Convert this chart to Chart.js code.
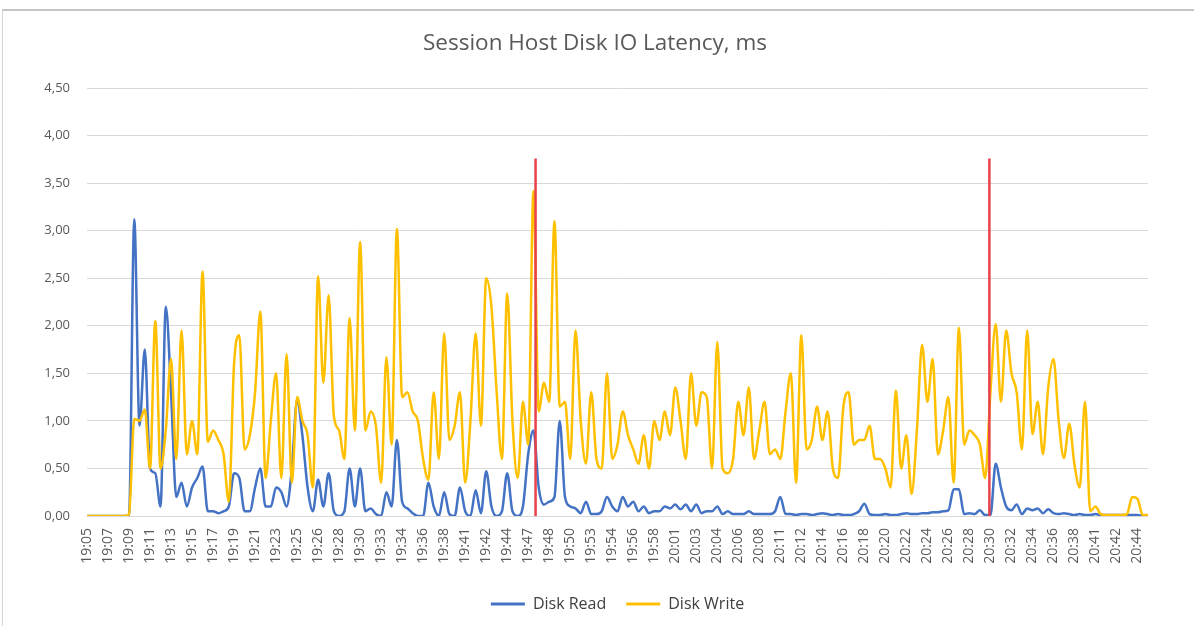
<!DOCTYPE html>
<html>
<head>
<meta charset="utf-8">
<title>Session Host Disk IO Latency</title>
<script src="https://cdn.jsdelivr.net/npm/chart.js@4.4.0/dist/chart.umd.min.js"></script>
<style>
  html, body { margin: 0; padding: 0; background: #fff; }
  #frame {
    position: absolute; left: 2px; top: 9px; width: 1192px; height: 617px;
    border-top: 2px solid #c4c4c4; border-left: 1px solid #d4d4d4; box-sizing: border-box;
  }
  #latency-chart { position: absolute; left: 0; top: 0; }
</style>
</head>
<body>
<div id="frame"></div>
<canvas id="latency-chart" width="1194" height="626"></canvas>
<script>
"use strict";
(function () {
  // one tick label every 4 samples
  const TICK_LABELS = ["19:05", "19:07", "19:09", "19:11", "19:13", "19:15", "19:17", "19:19",
    "19:21", "19:23", "19:25", "19:26", "19:28", "19:30", "19:33", "19:34", "19:36", "19:38",
    "19:41", "19:42", "19:44", "19:47", "19:48", "19:50", "19:53", "19:54", "19:56", "19:58",
    "20:01", "20:03", "20:04", "20:06", "20:08", "20:11", "20:12", "20:14", "20:16", "20:18",
    "20:20", "20:22", "20:24", "20:26", "20:28", "20:30", "20:32", "20:34", "20:36", "20:38",
    "20:41", "20:42", "20:44"];
  const SAMPLES_PER_TICK = 4;

  const READ = [
    0, 0, 0, 0, 0, 0, 0, 0, 0, 3.12,
    0.95, 1.75, 0.5, 0.45, 0.1, 2.2, 1.3, 0.2, 0.35, 0.1,
    0.3, 0.4, 0.52, 0.05, 0.05, 0.03, 0.05, 0.1, 0.45, 0.4,
    0.05, 0.05, 0.3, 0.5, 0.1, 0.1, 0.3, 0.25, 0.1, 0.5,
    1.22, 0.85, 0.3, 0.05, 0.38, 0.1, 0.45, 0.05, 0, 0.05,
    0.5, 0.1, 0.5, 0.05, 0.08, 0.02, 0, 0.25, 0.1, 0.8,
    0.15, 0.08, 0.03, 0, 0, 0.35, 0.1, 0, 0.25, 0.02,
    0, 0.3, 0.05, 0, 0.27, 0.03, 0.47, 0.1, 0, 0.05,
    0.45, 0.05, 0, 0.1, 0.65, 0.9, 0.3, 0.12, 0.15, 0.2,
    1.0, 0.2, 0.1, 0.08, 0.03, 0.15, 0.02, 0.02, 0.05, 0.2,
    0.1, 0.05, 0.2, 0.1, 0.15, 0.05, 0.1, 0.03, 0.05, 0.05,
    0.1, 0.08, 0.12, 0.07, 0.12, 0.05, 0.12, 0.03, 0.05, 0.05,
    0.1, 0.02, 0.05, 0.02, 0.02, 0.02, 0.05, 0.02, 0.02, 0.02,
    0.02, 0.05, 0.2, 0.02, 0.02, 0.01, 0.02, 0.02, 0.01, 0.02,
    0.03, 0.02, 0.01, 0.02, 0.01, 0.01, 0.02, 0.05, 0.13, 0.02,
    0.01, 0.01, 0.02, 0.01, 0.01, 0.02, 0.03, 0.02, 0.02, 0.03,
    0.03, 0.04, 0.04, 0.05, 0.06, 0.28, 0.28, 0.02, 0.03, 0.02,
    0.06, 0.01, 0.01, 0.55, 0.3, 0.1, 0.06, 0.12, 0.02, 0.08,
    0.06, 0.08, 0.03, 0.07, 0.03, 0.02, 0.03, 0.02, 0.01, 0.02,
    0.01, 0.01, 0.02, 0.01, 0.01, 0.01, 0.01, 0.01, 0.01, 0.01,
    0.01, 0, 0];

  const WRITE = [
    0, 0, 0, 0, 0, 0, 0, 0, 0.02, 1.02,
    1.0, 1.12, 0.5, 2.05, 0.5, 0.9, 1.65, 0.6, 1.95, 0.65,
    1.0, 0.65, 2.57, 0.78, 0.9, 0.8, 0.65, 0.15, 1.6, 1.9,
    0.7, 0.85, 1.3, 2.15, 0.4, 1.0, 1.5, 0.4, 1.7, 0.35,
    1.25, 1.0, 0.85, 0.3, 2.52, 1.4, 2.32, 1.05, 0.9, 0.6,
    2.08, 0.9, 2.88, 0.9, 1.1, 0.95, 0.35, 1.67, 0.75, 3.02,
    1.25, 1.3, 1.1, 1.0, 0.6, 0.38, 1.3, 0.6, 1.92, 0.8,
    0.95, 1.3, 0.35, 1.0, 1.92, 0.95, 2.5, 2.2, 1.3, 0.6,
    2.34, 1.0, 0.4, 1.2, 0.75, 3.42, 1.1, 1.4, 1.2, 3.1,
    1.15, 1.2, 0.6, 1.95, 1.0, 0.55, 1.3, 0.6, 0.5, 1.5,
    0.6, 0.75, 1.1, 0.85, 0.7, 0.55, 0.85, 0.5, 1.0, 0.8,
    1.1, 0.85, 1.35, 1.0, 0.6, 1.5, 0.95, 1.3, 1.25, 0.5,
    1.83, 0.5, 0.45, 0.6, 1.2, 0.85, 1.35, 0.6, 0.9, 1.2,
    0.65, 0.7, 0.6, 1.1, 1.5, 0.35, 1.9, 0.7, 0.8, 1.15,
    0.8, 1.1, 0.5, 0.4, 1.15, 1.3, 0.75, 0.8, 0.8, 0.95,
    0.6, 0.6, 0.5, 0.3, 1.32, 0.5, 0.85, 0.23, 0.9, 1.8,
    1.2, 1.65, 0.65, 0.9, 1.25, 0.35, 1.98, 0.75, 0.9, 0.85,
    0.75, 0.4, 1.3, 2.02, 1.2, 1.95, 1.5, 1.3, 0.7, 1.95,
    0.86, 1.2, 0.65, 1.35, 1.65, 1.0, 0.61, 0.97, 0.54, 0.3,
    1.2, 0.05, 0.1, 0.02, 0.01, 0.01, 0.01, 0.01, 0.02, 0.2,
    0.18, 0.01, 0.01];

  // the two red marker lines (sample position) and how high they go
  const MARKERS = [85.4, 171.8];
  const MARKER_TOP = 3.76;

  const FONT = "'Open Sans', 'DejaVu Sans', sans-serif";
  const TEXT_COLOR = "#595959";
  const BLUE = "#4472c4";
  const GOLD = "#ffc000";
  const RED = "#e8414a";

  window.addEventListener("load", init);

  function init() {
    Chart.defaults.font.family = FONT;
    Chart.defaults.color = TEXT_COLOR;

    let datasets = [
      lineSet("Disk Read", READ, BLUE, 2),
      lineSet("Disk Write", WRITE, GOLD, 1)
    ];
    MARKERS.forEach(x => datasets.push(markerSet(x)));

    new Chart(id("latency-chart"), {
      type: "line",
      data: { datasets: datasets },
      options: {
        responsive: false,
        animation: false,
        // some left padding pulls the title toward the plot centre
        layout: { padding: { top: 10, right: 46, bottom: 4, left: 42 } },
        scales: {
          x: {
            type: "linear",
            min: 0,
            max: READ.length - 1,
            grid: { display: false, drawTicks: false },
            border: { display: false },
            afterBuildTicks: scale => {
              scale.ticks = TICK_LABELS.map((_, k) => ({ value: k * SAMPLES_PER_TICK }));
            },
            afterFit: scale => { scale.height = 60; },
            ticks: {
              autoSkip: false,
              maxRotation: 90,
              minRotation: 90,
              padding: 12,
              font: { size: 14 },
              callback: v => TICK_LABELS[v / SAMPLES_PER_TICK]
            }
          },
          y: {
            min: 0,
            max: 4.5,
            grid: { color: "#d9d9d9", drawTicks: false },
            border: { display: false },
            afterFit: scale => { scale.width = 45; },
            ticks: {
              stepSize: 0.5,
              padding: 17,
              font: { size: 13 },
              callback: v => v.toFixed(2).replace(".", ",")
            }
          }
        },
        plugins: {
          title: {
            display: true,
            text: "Session Host Disk IO Latency, ms",
            color: TEXT_COLOR,
            font: { size: 22.5, weight: "normal" },
            padding: { top: 20, bottom: 31 }
          },
          legend: {
            position: "bottom",
            fullSize: false,
            labels: {
              boxWidth: 34,
              boxHeight: 3,
              padding: 20,
              color: "#404040",
              font: { size: 16 },
              generateLabels: legendItems
            }
          },
          tooltip: { enabled: false }
        }
      }
    });
  }

  function lineSet(label, values, color, order) {
    return {
      label: label,
      data: values.map((v, i) => ({ x: i, y: v })),
      borderColor: color,
      backgroundColor: color,
      borderWidth: 2.5,
      pointRadius: 0,
      cubicInterpolationMode: "monotone",
      order: order
    };
  }

  function markerSet(x) {
    return {
      label: "marker",
      data: [{ x: x, y: 0 }, { x: x, y: MARKER_TOP }],
      borderColor: RED,
      backgroundColor: RED,
      borderWidth: 2.5,
      pointRadius: 0,
      order: 0
    };
  }

  // only the two series go in the legend, drawn as short flat lines
  function legendItems(chart) {
    return Chart.defaults.plugins.legend.labels.generateLabels(chart)
      .filter(item => item.datasetIndex < 2)
      .sort((a, b) => a.datasetIndex - b.datasetIndex)
      .map(item => Object.assign(item, { lineWidth: 0 }));
  }

  function id(name) {
    return document.getElementById(name);
  }
})();
</script>
</body>
</html>
